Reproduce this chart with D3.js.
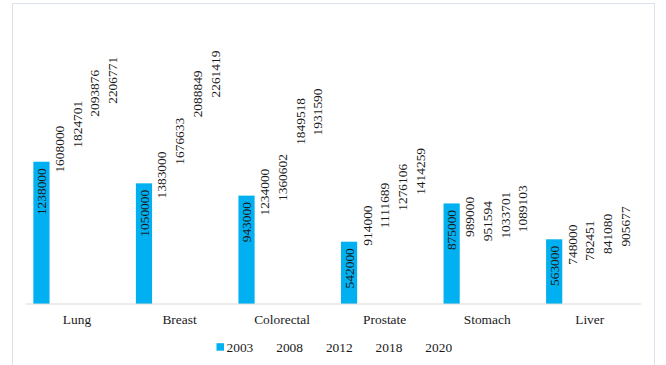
<!DOCTYPE html>
<html>
<head>
<meta charset="utf-8">
<script src="https://cdn.jsdelivr.net/npm/d3@7"></script>
<style>
  html, body { margin: 0; padding: 0; background: #fff; }
  svg { display: block; }
</style>
</head>
<body>
<svg id="chart" width="666" height="365"></svg>
<script>
// Estimated new cancer cases by site and year
const categories = ["Lung", "Breast", "Colorectal", "Prostate", "Stomach", "Liver"];
const years = ["2003", "2008", "2012", "2018", "2020"];
const cases2003 = [1238000, 1050000, 943000, 542000, 875000, 563000];
const cases2008 = [1608000, 1383000, 1234000, 914000, 989000, 748000];
const cases2012 = [1824701, 1676633, 1360602, 1111689, 951594, 782451];
const cases2018 = [2093876, 2088849, 1849518, 1276106, 1033701, 841080];
const cases2020 = [2206771, 2261419, 1931590, 1414259, 1089103, 905677];
const seriesValues = [cases2003, cases2008, cases2012, cases2018, cases2020];
const seriesColors = ["#00B0F0", "#FFFFFF", "#FFFFFF", "#FFFFFF", "#FFFFFF"];

const FONT = "'Liberation Serif'";
const FONT_SIZE = 13.4;
const INK = "#1a1a1a";

const svg = d3.select("#chart");

// chart frame
svg.append("rect")
  .attr("x", 12.5).attr("y", 3.5)
  .attr("width", 642).attr("height", 380)
  .attr("fill", "none").attr("stroke", "#DCE2E9").attr("stroke-width", 1);

const plot = { left: 25.7, right: 641, top: 16.7, bottom: 304 };

const x0 = d3.scaleBand().domain(categories)
  .range([plot.left, plot.right]).paddingInner(0.118).paddingOuter(0.059);
const x1 = d3.scaleBand().domain(years)
  .range([0, x0.bandwidth()]).padding(0.09);
const y = d3.scaleLinear().domain([0, 2500000]).range([plot.bottom, plot.top]);

const rows = categories.map((c, i) => ({
  cat: c,
  vals: years.map((yr, s) => ({ yr, s, v: seriesValues[s][i] }))
}));

const groups = svg.append("g").selectAll("g").data(rows).join("g")
  .attr("transform", d => `translate(${x0(d.cat)},0)`);

groups.selectAll("rect").data(d => d.vals).join("rect")
  .attr("x", d => x1(d.yr))
  .attr("y", d => y(d.v))
  .attr("width", x1.bandwidth())
  .attr("height", d => y(0) - y(d.v))
  .attr("fill", d => seriesColors[d.s]);

// value labels, rotated, anchored just inside the bar end
groups.selectAll("text.val").data(d => d.vals).join("text")
  .attr("class", "val")
  .attr("transform", d => `translate(${x1(d.yr) + x1.bandwidth() / 2},${y(d.v) + 6.5}) rotate(-90)`)
  .attr("text-anchor", "end")
  .attr("dy", "0.35em")
  .attr("font-family", FONT)
  .attr("font-size", FONT_SIZE)
  .attr("fill", INK)
  .text(d => d.v);

// category axis
const xAxis = svg.append("g")
  .attr("transform", `translate(0,${plot.bottom})`)
  .call(d3.axisBottom(x0).tickSize(0).tickPadding(10).tickSizeOuter(0));
xAxis.attr("font-family", FONT).attr("font-size", FONT_SIZE);
xAxis.select(".domain").attr("stroke", "#D9D9D9").attr("stroke-width", 1.2)
  .attr("d", `M${plot.left},0H${plot.right}`);
xAxis.selectAll("text")
  .attr("font-family", FONT).attr("font-size", FONT_SIZE).attr("fill", INK);

// legend
const legend = svg.append("g").attr("transform", "translate(216.5,347)");
const items = legend.selectAll("g").data(years).join("g")
  .attr("transform", (d, i) => `translate(${i * 49.7},0)`);
items.append("rect")
  .attr("x", 0).attr("y", -3.8).attr("width", 7.5).attr("height", 7.5)
  .attr("fill", (d, i) => seriesColors[i]);
items.append("text")
  .attr("x", 10).attr("dy", "0.35em")
  .attr("font-family", FONT).attr("font-size", FONT_SIZE).attr("fill", INK)
  .text(d => d);
</script>
</body>
</html>
